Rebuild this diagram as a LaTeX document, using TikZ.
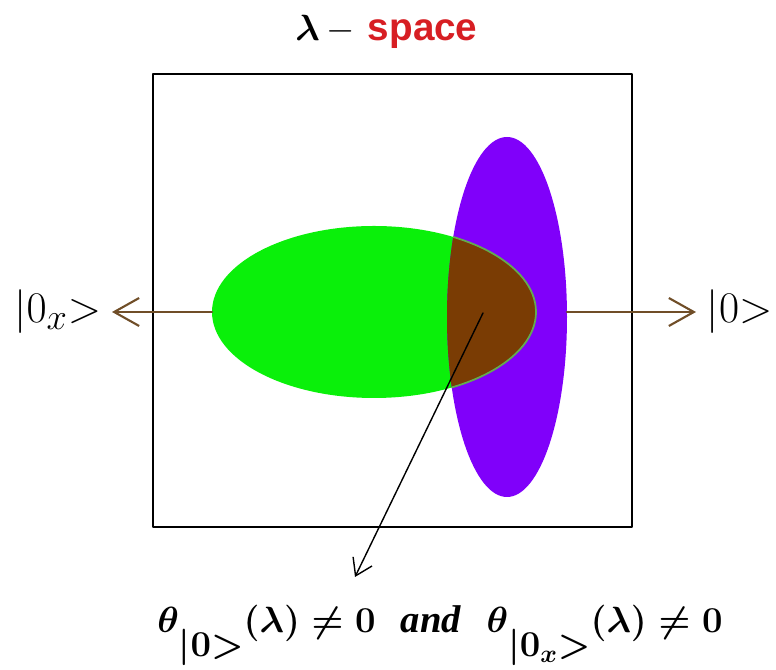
\documentclass[tikz,border=0pt]{standalone}
\usepackage{amsmath}
\usepackage{fontspec}
\setmainfont{Liberation Serif}
\newfontfamily\sansfont{Liberation Sans}
\usetikzlibrary{arrows.meta}
\definecolor{grn}{RGB}{10,240,10}
\definecolor{vio}{RGB}{128,0,250}
\definecolor{brn}{RGB}{122,60,4}
\definecolor{arr}{RGB}{112,78,40}
\definecolor{rim}{RGB}{100,170,80}
\definecolor{ttl}{RGB}{215,30,35}
\newcommand\lowsub[1]{\raisebox{-0.48cm}{$#1$}}
\begin{document}
\begin{tikzpicture}[scale=1,>={Straight Barb[length=5mm,width=5.6mm]}, line join=round, line cap=round]
				\def\xmin{3.06} \def\xmax{12.64}  \def\ymin{2.86}\def\ymax{11.92}
				\useasboundingbox (0,0) rectangle (15.52,13.4);
				\draw[line width=1.3pt] (\xmin,\ymin) rectangle (\xmax,\ymax);
				\fill[grn] (7.48,7.16) ellipse (3.24 and 1.72);
				\fill[vio] (10.14,7.06) ellipse (1.2 and 3.6);
				\begin{scope}
					\clip (10.14,7.06) ellipse (1.2 and 3.6);
					\fill[brn] (7.48,7.16) ellipse (3.24 and 1.72);
					\draw[rim,line width=1pt] (7.48,7.16) ellipse (3.24 and 1.72);
				\end{scope}
				\coordinate (gw) at (4.24,7.16);
				\coordinate (pe) at (11.34,7.16);
				\coordinate (mid) at (9.66,7.14);
				\coordinate (tip) at (7.10,1.86);
				\node[left,inner sep=6pt,font=\fontsize{28}{32}\selectfont] (ketx) at (2.24,7.16) {$|0_x{>}$};
				\node[right,inner sep=6pt,font=\fontsize{28}{32}\selectfont] (ket) at (13.92,7.16) {$|0{>}$};
				\draw[->,arr,line width=1.2pt] (gw)--(ketx);
				\draw[->,arr,line width=1.2pt] (pe)--(ket);
				\draw[-{Straight Barb[length=3.2mm,width=4.2mm]},line width=0.8pt] (mid)--(tip);
				\node[font=\fontsize{22}{26}\selectfont] (title) at (7.73,12.76) {$\boldsymbol{\lambda}\,{-}$\hspace{0.35em}\textcolor{ttl}{\sansfont\bfseries space}};
				\node[anchor=base west,inner sep=0pt,font=\fontsize{22}{26}\selectfont\boldmath] (cond) at (3.14,0.74) {$\theta$\lowsub{|0{>}}$(\lambda)\neq 0$\hspace{0.65em}\textbf{\textit{and}}\hspace{0.65em}$\theta$\lowsub{|0_x{>}}$(\lambda)\neq 0$};
			\end{tikzpicture}
\end{document}
